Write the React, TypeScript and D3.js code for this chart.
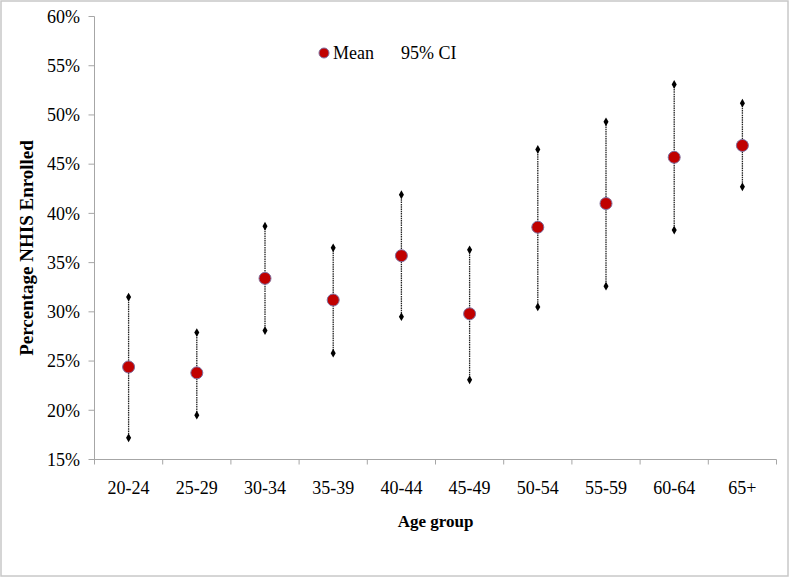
import React from "react";
import * as d3 from "d3";

const categories = ["20-24", "25-29", "30-34", "35-39", "40-44", "45-49", "50-54", "55-59", "60-64", "65+"];
const meanValues = [24.4, 23.8, 33.4, 31.2, 35.7, 29.8, 38.6, 41.0, 45.7, 46.9];
const upperValues = [31.5, 27.9, 38.7, 36.5, 41.9, 36.3, 46.5, 49.3, 53.1, 51.2];
const lowerValues = [17.2, 19.5, 28.1, 25.8, 29.5, 23.1, 30.5, 32.6, 38.3, 42.7];
const yTicks = [15, 20, 25, 30, 35, 40, 45, 50, 55, 60];

const W = 790;
const H = 577;
const FONT = "'Liberation Serif', 'Times New Roman', serif";

export default function App() {
  const x = d3.scaleBand<string>().domain(categories).range([94.5, 776.5]).padding(0);
  const y = d3.scaleLinear().domain([15, 60]).range([459.5, 16.5]);
  const x0 = x.range()[0];
  const x1 = x.range()[1];
  const axisColor = "#a6a6a6";
  const diamond = d3.symbol().type(d3.symbolDiamond).size(22)() as string;
  const yTitleCenter = 248;

  return (
    <svg width={W} height={H} style={{ position: "absolute", left: 0, top: 0 }}>
      <rect x={0} y={0} width={W} height={H} fill="#fff" />
      <rect x={1} y={1} width={787} height={575} fill="none" stroke="#c8c8c8" strokeWidth={1.5} />

      {/* Y axis */}
      <line x1={x0} x2={x0} y1={y(60)} y2={y(15) + 5} stroke={axisColor} strokeWidth={1} />
      {yTicks.map((t) => (
        <g key={t}>
          <line x1={x0 - 6} x2={x0} y1={y(t)} y2={y(t)} stroke={axisColor} strokeWidth={1} />
          <text x={80} y={y(t)} dy="0.35em" textAnchor="end" fontFamily={FONT} fontSize={18} fill="#000">
            {t}%
          </text>
        </g>
      ))}

      {/* X axis */}
      <line x1={x0} x2={x1} y1={y(15)} y2={y(15)} stroke={axisColor} strokeWidth={1} />
      {categories.map((c) => (
        <line
          key={"t" + c}
          x1={(x(c) as number) + x.bandwidth()}
          x2={(x(c) as number) + x.bandwidth()}
          y1={y(15)}
          y2={y(15) + 5}
          stroke={axisColor}
          strokeWidth={1}
        />
      ))}
      {categories.map((c) => (
        <text
          key={"l" + c}
          x={(x(c) as number) + x.bandwidth() / 2}
          y={494}
          textAnchor="middle"
          fontFamily={FONT}
          fontSize={18}
          fill="#000"
        >
          {c}
        </text>
      ))}

      {/* Axis titles */}
      <text x={(x0 + x1) / 2} y={527} textAnchor="middle" fontFamily={FONT} fontSize={17} fontWeight="bold">
        Age group
      </text>
      <text
        transform={`translate(33,${yTitleCenter}) rotate(-90)`}
        textAnchor="middle"
        fontFamily={FONT}
        fontSize={19}
        fontWeight="bold"
      >
        Percentage NHIS Enrolled
      </text>

      {/* Error bars */}
      {categories.map((c, i) => {
        const cx = (x(c) as number) + x.bandwidth() / 2;
        return (
          <g key={"e" + c}>
            <line
              x1={cx}
              x2={cx}
              y1={y(upperValues[i])}
              y2={y(lowerValues[i])}
              stroke="#222"
              strokeWidth={1.3}
              strokeDasharray="1.5,0.8"
            />
            <path d={diamond} transform={`translate(${cx},${y(upperValues[i])})`} fill="#000" />
            <path d={diamond} transform={`translate(${cx},${y(lowerValues[i])})`} fill="#000" />
          </g>
        );
      })}

      {/* Means */}
      {categories.map((c, i) => (
        <circle
          key={"m" + c}
          cx={(x(c) as number) + x.bandwidth() / 2}
          cy={y(meanValues[i])}
          r={6}
          fill="#c00000"
          stroke="#7f6f9f"
          strokeWidth={1}
        />
      ))}

      {/* Legend */}
      <circle cx={324} cy={53} r={5} fill="#c00000" stroke="#7f6f9f" strokeWidth={1} />
      <text x={333} y={59} fontFamily={FONT} fontSize={18} fill="#000">
        Mean
      </text>
      <text x={401} y={59} fontFamily={FONT} fontSize={18} fill="#000">
        95% CI
      </text>
    </svg>
  );
}
